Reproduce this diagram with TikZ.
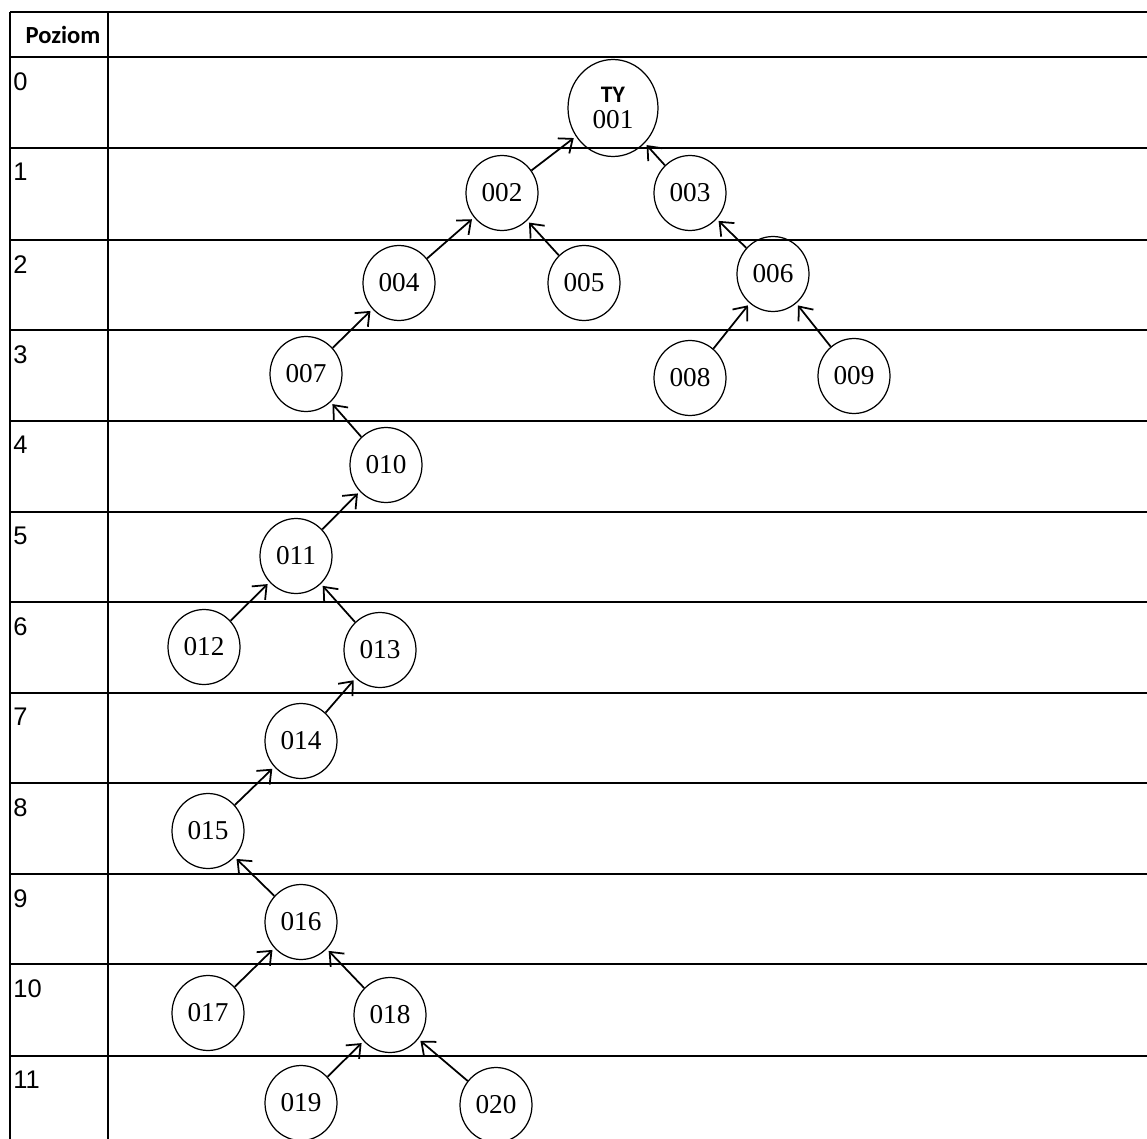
\documentclass[tikz,border=0pt]{standalone}
\usepackage{fontspec}
\setmainfont{Liberation Serif}
\newfontfamily\calibri{Carlito}
\newfontfamily\arial{Liberation Sans}
\usetikzlibrary{shapes.geometric, arrows.meta}

\begin{document}
\begin{tikzpicture}[
    x=0.02cm, y=-0.02cm,
    osoba/.style={ellipse, draw, line width=0.7pt, minimum width=1.44cm, minimum height=1.5cm, inner sep=0pt, font=\fontsize{15.5}{17}\selectfont},
    ty/.style={osoba, minimum width=1.8cm, minimum height=1.94cm, align=center},
    linia/.style={line width=1pt},
    poziom/.style={anchor=north west, inner sep=0pt, font=\arial\fontsize{14.5}{16}\selectfont},
    arrow/.style={-{Straight Barb[length=2.3mm, width=3.8mm]}, line width=1pt, shorten >=1.5pt}
]
\useasboundingbox (0,0) rectangle (1147,1139);

% Table
\draw[linia] (10,12) -- (1147,12);
\draw[linia] (10,12) -- (10,1139);
\draw[linia] (108,12) -- (108,1139);
\node[font=\calibri\bfseries\fontsize{14}{16}\selectfont] (naglowek) at (63,35) {Poziom};
\foreach \y [count=\i from 0] in {57,148,240,330,421,512,602,693,783,874,964,1056}
{
    \draw[linia] (10,\y) -- (1147,\y);
    \node[poziom] (p\i) at (13,\y+15) {\i};
}

% Tree
\node[ty] (n001) at (613,108) {{\calibri\bfseries\fontsize{13.5}{13.5}\selectfont TY}\\[-2pt]001};
\node[osoba] (n002) at (502,193) {002};
\node[osoba] (n003) at (690,193) {003};
\node[osoba] (n004) at (399,283) {004};
\node[osoba] (n005) at (584,283) {005};
\node[osoba] (n006) at (773,274) {006};
\node[osoba] (n007) at (306,374) {007};
\node[osoba] (n008) at (690,378) {008};
\node[osoba] (n009) at (854,376) {009};
\node[osoba] (n010) at (386,465) {010};
\node[osoba] (n011) at (296,556) {011};
\node[osoba] (n012) at (204,647) {012};
\node[osoba] (n013) at (380,650) {013};
\node[osoba] (n014) at (301,741) {014};
\node[osoba] (n015) at (208,831) {015};
\node[osoba] (n016) at (301,922) {016};
\node[osoba] (n017) at (208,1013) {017};
\node[osoba] (n018) at (390,1015) {018};
\node[osoba] (n019) at (301,1103) {019};
\node[osoba] (n020) at (496,1105) {020};

% Arrows
\foreach \a/\b in {002/001, 003/001, 004/002, 005/002, 006/003, 007/004, 008/006, 009/006, 010/007, 011/010,
                   012/011, 013/011, 014/013, 015/014, 016/015, 017/016, 018/016, 019/018, 020/018}
    \draw[arrow] (n\a) -- (n\b);

\end{tikzpicture}
\end{document}
